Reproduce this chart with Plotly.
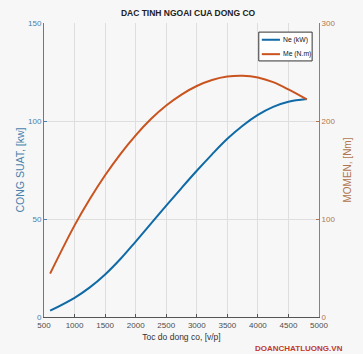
import plotly.graph_objects as go

# engine speed [rpm]
rpm = [600, 1000, 1250, 1500, 1750, 2000, 2250, 2500, 2750, 3000, 3250, 3500,
       3750, 4000, 4250, 4500, 4800]
# effective power Ne [kW]
ne_kw = [3.2, 9.8, 15.1, 21.7, 29.6, 38.5, 47.6, 56.8, 65.8, 74.6, 83.0, 90.9,
         97.6, 103.1, 107.2, 109.8, 111.2]
# effective torque Me [N.m]
me_nm = [44.3, 93.5, 120.4, 144.6, 166.3, 185.4, 202.0, 215.8, 227.0, 235.7, 241.8, 245.3,
         246.2, 244.4, 239.6, 232.2, 222.0]

x_ticks = [500, 1000, 1500, 2000, 2500, 3000, 3500, 4000, 4500, 5000]
left_ticks = [0, 50, 100, 150]
right_ticks = [0, 100, 200, 300]
legend_labels = ["Ne (kW)", "Me (N.m)"]

FONT = "Liberation Sans, Arial, Helvetica, sans-serif"
BLUE_LINE = "#0f6aa6"
ORANGE_LINE = "#c9541f"
BLUE_AX = "#4a82ad"
ORANGE_AX = "#b0764f"
BG = "#f7f7f7"
GRID = "#dedede"

fig = go.Figure()
fig.add_trace(go.Scatter(x=rpm, y=ne_kw, name=legend_labels[0], mode="lines",
                         showlegend=False,
                         line=dict(color=BLUE_LINE, width=2, shape="spline", smoothing=1)))
fig.add_trace(go.Scatter(x=rpm, y=me_nm, name=legend_labels[1], mode="lines", yaxis="y2",
                         showlegend=False,
                         line=dict(color=ORANGE_LINE, width=2, shape="spline", smoothing=1)))

fig.update_layout(
    width=363, height=354,
    margin=dict(l=44, r=31, t=23, b=37),
    paper_bgcolor=BG, plot_bgcolor=BG,
    font=dict(family=FONT, size=8, color="#4d4d4d"),
    title=dict(text="<b>DAC TINH NGOAI CUA DONG CO</b>", x=0.518, xanchor="center",
               y=0.963, yanchor="middle", font=dict(family=FONT, size=8.5, color="#222222")),
    xaxis=dict(range=[500, 5000], tickvals=x_ticks, ticks="inside", ticklen=3,
               tickcolor="#555555", showline=True, linecolor="#555555", linewidth=1,
               showgrid=True, gridcolor=GRID, zeroline=False,
               tickfont=dict(size=8, color="#4d4d4d"),
               title=dict(text="Toc do dong co, [v/p]", standoff=5,
                          font=dict(size=8.5, color="#333333"))),
    yaxis=dict(range=[0, 150], tickvals=left_ticks, ticks="inside", ticklen=3,
               tickcolor=BLUE_AX, showline=True, linecolor=BLUE_AX, linewidth=1,
               showgrid=True, gridcolor=GRID, zeroline=False,
               tickfont=dict(size=8, color=BLUE_AX),
               title=dict(text="CONG SUAT, [kw]", standoff=1,
                          font=dict(size=10.5, color=BLUE_AX))),
    yaxis2=dict(range=[0, 300], tickvals=right_ticks, ticks="inside", ticklen=3,
                tickcolor=ORANGE_AX, showline=True, linecolor=ORANGE_AX, linewidth=1,
                showgrid=False, zeroline=False, overlaying="y", side="right",
                tickfont=dict(size=8, color=ORANGE_AX),
                title=dict(text="MOMEN, [Nm]", standoff=9,
                           font=dict(size=10, color=ORANGE_AX))),
    showlegend=False,
)

# compact legend box (top-right, inside axes)
fig.add_shape(type="rect", xref="paper", yref="paper", x0=0.781, x1=0.975, y0=0.871, y1=0.969,
              line=dict(color="#333333", width=1), fillcolor="#ffffff", layer="above")
for i, (lab, col) in enumerate(zip(legend_labels, [BLUE_LINE, ORANGE_LINE])):
    yy = 0.943 - i * 0.049
    fig.add_shape(type="line", xref="paper", yref="paper", x0=0.792, x1=0.858, y0=yy, y1=yy,
                  line=dict(color=col, width=2), layer="above")
    fig.add_annotation(text=lab, xref="paper", yref="paper", x=0.860, y=yy,
                       xanchor="left", yanchor="middle", showarrow=False,
                       font=dict(family=FONT, size=6.8, color="#111111"))

fig.add_annotation(text="<b>DOANCHATLUONG.VN</b>", xref="paper", yref="paper",
                   x=1.095, y=-0.085, xanchor="right", yanchor="top", showarrow=False,
                   font=dict(family=FONT, size=8, color="#c0392b"))

fig.write_html("out.html")
